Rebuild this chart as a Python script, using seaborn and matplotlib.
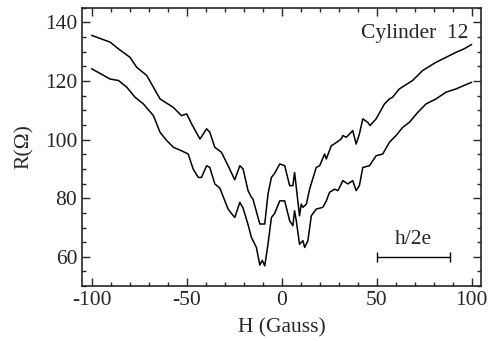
import seaborn as sns
import matplotlib.pyplot as plt
import pandas as pd
from matplotlib.ticker import MultipleLocator

# Upper trace
H_upper = [-100, -90.3, -85.9, -79.8, -76.3, -71, -64, -57, -52.7, -50, -47.4, -43, -39.5,
           -37.8, -35.2, -31.7, -28.2, -24.7, -22, -20.3, -17.7, -15.9, -15.1, -11.5, -8.9,
           -7.2, -5.4, -3.7, -1, 1.6, 4.2, 5.9, 6.8, 7.7, 9.4, 10.3, 11.2, 13, 14.7, 18.2, 20,
           22.6, 23.5, 26.1, 28.7, 31.3, 32.2, 34, 35.7, 37.4, 39.2, 40.9, 42.7, 45.3, 46.5,
           49.7, 54.1, 56.7, 58.4, 61.9, 68.9, 74.2, 81.2, 86.5, 91.7, 96, 100]
R_upper = [135.6, 133.3, 131, 128.1, 124.7, 121.9, 113.9, 111, 108.2, 108.8, 105.4, 100.2, 103.7,
           102.5, 97.4, 95.7, 91.1, 86.3, 91.1, 90, 82.6, 80.3, 79.7, 71.2, 71.2,
           81.4, 87.1, 88.5, 91.7, 91.1, 84.3, 84.3, 88.8, 83.7, 74, 78, 76.9, 78, 83.1, 90.5, 91.1,
           95.1, 93.4, 97.9, 99, 100.2, 101.4, 100.8, 101.9, 103.1, 98.5, 101.9, 107.1, 105.9, 104.8,
           107.1, 112.2, 113.9, 114.5, 117.3, 120.2, 123.6, 126.4, 128.1, 129.8, 131, 132.5]

# Lower trace
H_lower = [-100, -90.3, -85.9, -81.5, -77.2, -72.8, -67.5, -64, -60.5, -57, -52.7, -49.2, -46.6,
           -43.9, -42.2, -39.5, -37.8, -35.2, -32.5, -28.2, -24.7, -22, -20.3, -17.7, -15.9,
           -13.3, -11.5, -10.2, -8.9, -7.2, -5.4, -3.7, -1, 1.6, 4.2, 5.9, 6.8, 7.7, 9.4, 11.2,
           12.1, 13.8, 15.6, 18.2, 21.7, 23.5, 25.2, 27.8, 29.6, 32.2, 34.8, 37.4, 39.2, 40.9,
           42.7, 46.2, 49.7, 53.2, 56.7, 60.2, 63.7, 67.2, 71.6, 76, 81.2, 86.5, 91.7, 96, 100]
R_lower = [124.2, 120.7, 120.2, 117.9, 114.5, 112.2, 108.2, 102.5, 99.7, 97.4, 96.2, 95.1, 90,
           87.1, 87.1, 91.1, 90.5, 84.9, 83.4, 76.3, 73.4, 78.6, 76.6, 71, 66.6,
           63.2, 57.2, 58.8, 56.9, 64.3, 73.4, 74.8, 79.1, 79.1, 72.3, 70.6, 75.7, 72.3, 64.3, 65.5,
           63.2, 65.5, 74, 76.3, 76.9, 79.1, 82, 83.1, 82.6, 86, 84.9, 86, 82.6, 84.3,
           90.5, 91.1, 94.5, 95.1, 99.1, 101.4, 104.2, 105.9, 109.3, 112.2, 113.9, 116.2, 117.3, 118.5, 119.6]

# Scale bar for one flux quantum h/2e
bar_start, bar_end, bar_level = 50, 88.5, 60

upper = pd.DataFrame({"H": H_upper, "R": R_upper})
lower = pd.DataFrame({"H": H_lower, "R": R_lower})

sns.set_style("ticks")
plt.rcParams["font.family"] = ["Liberation Serif", "DejaVu Serif"]
fs = 15.5

fig = plt.figure(figsize=(4.89, 3.41), dpi=100)
ax = fig.add_axes([0.168, 0.161, 0.816, 0.816])

sns.lineplot(data=upper, x="H", y="R", color="black", lw=1.1, estimator=None, ax=ax)
sns.lineplot(data=lower, x="H", y="R", color="black", lw=1.1, estimator=None, ax=ax)

ax.errorbar((bar_start + bar_end) / 2, bar_level, xerr=(bar_end - bar_start) / 2,
            color="black", lw=1, capsize=3.5, capthick=1)
ax.text((bar_start + bar_end) / 2, bar_level + 2.5, "h/2e", ha="center", va="bottom", fontsize=fs)
ax.text(98, 136.2, "Cylinder  12", ha="right", va="center", fontsize=fs)

ax.set_xlim(-105, 105)
ax.set_ylim(50, 145)
ax.xaxis.set_major_locator(MultipleLocator(50))
ax.xaxis.set_minor_locator(MultipleLocator(10))
ax.yaxis.set_major_locator(MultipleLocator(20))
ax.yaxis.set_minor_locator(MultipleLocator(5))
ax.xaxis.set_major_formatter(lambda v, p: f"{v:.0f}".replace("\u2212", "-"))
ax.tick_params(which="both", direction="in", top=True, right=True, width=1, labelsize=fs)
ax.tick_params(which="major", length=6)
ax.tick_params(which="minor", length=3)
for s in ax.spines.values():
    s.set_linewidth(1.2)

ax.set_xlabel("H (Gauss)", fontsize=fs, labelpad=6)
ax.set_ylabel("R(\u03a9)", fontsize=fs, labelpad=8)

fig.savefig("out.png", dpi=100)
